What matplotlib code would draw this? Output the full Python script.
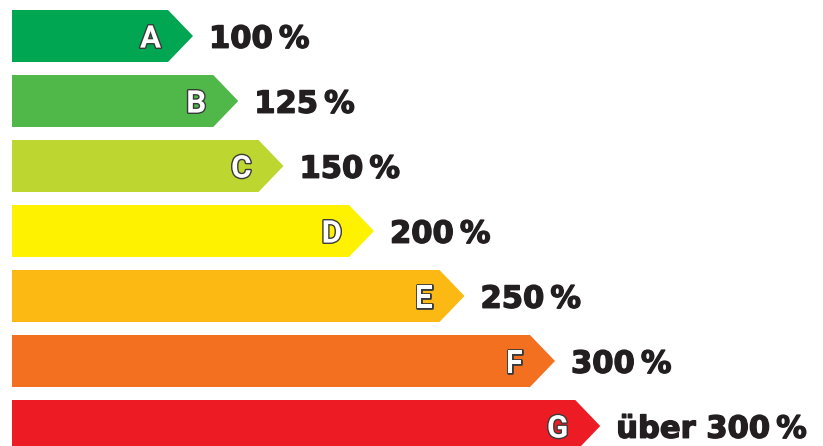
import matplotlib
matplotlib.use("Agg")
import matplotlib.pyplot as plt
from matplotlib.patches import Polygon
import matplotlib.patheffects as pe

# Data
classes = ["A", "B", "C", "D", "E", "F", "G"]
bar_lengths = [100, 125, 150, 200, 250, 300, 325]
value_labels = ["100\u2009%", "125\u2009%", "150\u2009%", "200\u2009%", "250\u2009%", "300\u2009%", "über 300\u2009%"]
colors = ["#00a651", "#50b848", "#bed630", "#fff200", "#fdb913", "#f37021", "#ed1c24"]

W, H = 823, 446
fig = plt.figure(figsize=(W / 100, H / 100), dpi=100)
ax = fig.add_axes([0, 0, 1, 1])
px_per_unit = 1.81
x0_px = 12
ax.set_xlim(-x0_px / px_per_unit, (W - x0_px) / px_per_unit)
row_px = 65
y0_px = 36
ax.set_ylim((H - y0_px) / row_px, -y0_px / row_px)
ax.axis("off")

bar_h = 52 / row_px
tip = 25 / px_per_unit
gap = 16 / px_per_unit
letter_gap = 7 / px_per_unit

for i, (c, v, lab, col) in enumerate(zip(classes, bar_lengths, value_labels, colors)):
    top = i - bar_h / 2
    bot = i + bar_h / 2
    poly = Polygon([(0, top), (v - tip, top), (v, i), (v - tip, bot), (0, bot)],
                   closed=True, facecolor=col, edgecolor="none")
    ax.add_patch(poly)
    ax.text(v - tip - letter_gap, i + 0.04, c, ha="right", va="center",
            fontsize=22.5, fontweight="bold", color="white", family=["Roboto", "DejaVu Sans"],
            path_effects=[pe.withStroke(linewidth=2.0, foreground="#3a3a3a")])
    ax.text(v + gap, i + 0.05, lab, ha="left", va="center",
            fontsize=22, fontweight="bold", color="#231f20", family=["DejaVu Sans"],
            path_effects=[pe.withStroke(linewidth=1.0, foreground="#231f20")])

fig.savefig("out.png", dpi=100)
